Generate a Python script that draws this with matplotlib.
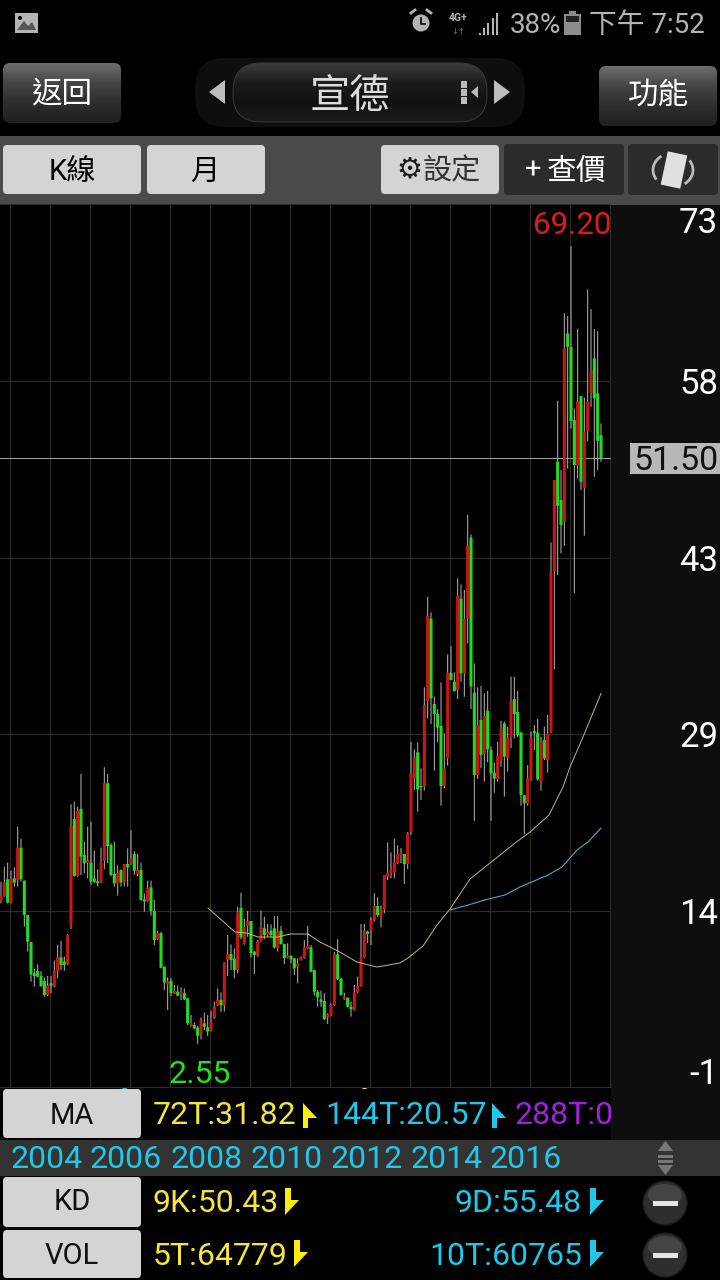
import numpy as np
import matplotlib
matplotlib.use("Agg")
import matplotlib.pyplot as plt
from matplotlib.colors import LinearSegmentedColormap
from matplotlib.patches import FancyBboxPatch, Rectangle, Circle, Ellipse, Polygon, Arc
from matplotlib.transforms import blended_transform_factory, ScaledTranslation

plt.rcParams['font.family'] = ['Roboto', 'Noto Sans CJK TC', 'DejaVu Sans']

## monthly candles
opens = [14.51,14.90,16.29,14.37,16.37,16.23,18.94,16.18,13.31,11.05,
 8.44,8.63,8.21,7.80,6.63,7.60,7.32,8.63,9.77,9.41,
 9.27,12.48,21.33,16.57,22.17,18.32,17.68,17.68,16.37,16.12,
 16.01,17.85,24.31,19.16,16.74,15.96,17.07,16.01,17.57,17.57,
 18.41,16.68,17.07,14.62,14.48,15.62,13.64,11.28,11.78,9.00,
 7.52,7.82,6.77,6.91,6.71,6.77,6.35,4.04,4.12,3.90,
 3.37,4.26,3.93,3.65,4.68,5.76,6.21,5.73,9.60,10.05,
 9.66,8.71,13.89,10.89,12.39,12.81,10.25,9.88,11.16,12.20,
 11.69,12.00,12.20,10.52,12.00,10.89,9.75,9.88,9.69,8.99,
 9.55,9.72,10.50,10.61,8.71,6.90,6.26,6.12,4.76,4.95,
 5.79,10.02,8.02,6.27,6.40,5.65,5.37,6.82,7.38,9.77,
 11.94,12.00,12.84,14.06,13.17,13.78,16.51,16.85,16.85,17.65,
 18.24,18.40,17.57,20.27,24.73,26.90,24.09,24.03,31.19,38.07,
 30.94,30.10,29.10,24.09,26.40,33.55,32.80,32.11,39.74,33.50,
 38.09,44.83,31.88,25.00,29.60,26.76,30.38,27.09,25.20,24.67,
 26.26,29.32,26.45,28.12,31.35,30.27,28.57,23.31,22.64,24.59,
 28.68,28.54,24.45,27.93,26.26,28.57,42.04,51.18,47.98,46.17,
 61.90,60.78,54.66,50.90,56.66,49.00,53.77,56.94,59.81,56.89,
 53.41]
closes = [14.93,16.04,14.34,16.37,16.01,18.94,16.29,13.31,11.08,8.35,
 8.21,8.16,7.38,6.63,7.43,7.38,8.63,9.77,9.13,9.13,
 11.64,20.75,16.57,22.00,18.18,17.63,17.85,16.09,16.09,15.98,
 17.68,24.31,19.07,16.65,15.96,16.85,16.04,17.57,17.29,18.04,
 17.01,17.07,14.56,14.45,15.54,13.64,11.22,11.78,8.91,7.66,
 7.74,6.77,6.99,6.57,6.91,6.26,4.26,4.26,3.84,3.20,
 4.54,3.98,3.57,4.40,5.65,6.21,5.79,9.35,10.05,9.55,
 8.71,13.53,11.44,12.28,12.78,10.11,9.97,11.16,12.28,11.64,
 11.92,11.64,10.58,11.92,10.89,9.72,9.91,9.60,8.85,9.22,
 9.83,10.61,10.72,8.57,6.90,6.43,6.04,4.60,5.01,5.79,
 10.02,7.96,6.63,6.49,5.65,5.43,6.85,7.38,9.77,12.00,
 11.72,12.89,14.06,13.31,13.78,16.65,16.85,17.07,17.71,18.40,
 18.49,17.57,20.16,25.14,26.54,23.81,23.98,30.85,38.29,31.41,
 30.10,28.96,24.09,25.56,33.55,32.94,32.02,39.96,33.50,38.04,
 44.14,32.39,25.00,29.18,26.68,29.94,27.15,25.14,24.70,26.62,
 28.90,26.54,28.12,31.22,30.10,28.35,23.34,22.64,24.73,28.12,
 28.49,24.64,27.79,26.40,28.49,41.94,49.65,47.50,45.89,60.65,
 60.78,54.58,50.90,56.27,49.51,53.68,56.19,58.78,56.47,52.93,
 51.50]
highs = [16.09,17.35,17.68,17.01,17.29,20.69,19.69,16.18,13.31,11.05,
 8.80,9.19,8.63,8.10,8.21,8.21,9.50,10.80,11.14,9.83,
 11.72,22.56,22.78,22.36,25.09,19.44,20.69,21.11,18.68,17.13,
 18.94,25.65,25.09,19.30,19.44,17.46,17.13,17.57,18.88,20.41,
 18.63,18.41,17.68,15.12,16.18,16.18,14.56,12.00,11.92,9.00,
 8.10,8.02,7.46,7.41,7.27,7.18,6.35,4.96,4.32,4.04,
 4.76,5.15,4.95,5.32,6.07,7.18,6.85,9.35,11.64,10.86,
 10.52,14.00,15.17,12.97,13.64,12.81,10.30,11.22,13.67,13.17,
 12.56,12.53,13.23,13.23,12.39,10.89,10.94,9.97,9.69,9.69,
 9.83,11.22,12.39,10.80,8.71,7.04,6.99,6.77,5.10,5.93,
 10.22,11.28,8.02,6.82,6.40,6.07,7.46,8.16,12.56,12.56,
 12.00,13.11,15.12,14.79,14.09,16.65,19.38,18.54,19.66,19.15,
 18.90,18.40,20.24,27.79,27.15,27.71,25.56,32.33,39.90,38.60,
 31.55,30.52,32.75,28.49,35.09,35.78,33.58,41.44,40.93,40.46,
 46.73,45.11,34.33,32.33,32.44,31.83,32.02,27.37,26.04,27.79,
 29.54,29.46,29.04,33.22,33.22,32.02,28.57,23.31,25.84,28.62,
 29.18,29.68,28.21,29.04,30.02,44.44,49.65,56.27,50.48,63.57,
 63.35,69.20,55.63,62.26,56.66,56.55,65.57,63.93,62.26,62.09,
 54.38]
lows = [14.28,14.84,14.28,14.28,15.68,15.68,16.09,12.34,10.25,7.74,
 7.32,8.10,7.32,6.49,6.54,6.77,7.27,8.02,8.72,8.66,
 9.13,12.14,16.51,16.51,16.65,16.79,16.37,15.82,15.96,15.68,
 15.96,17.13,17.63,16.57,15.68,14.93,15.68,15.68,15.68,17.49,
 16.65,16.57,14.51,13.59,14.42,13.25,10.80,11.22,8.85,7.04,
 5.37,6.54,6.71,6.54,6.21,6.21,4.12,3.98,3.76,2.55,
 2.92,3.70,3.20,3.59,4.62,5.71,5.23,5.23,8.21,8.71,
 8.02,8.44,11.28,10.83,11.50,9.77,8.38,9.83,11.08,11.28,
 11.50,11.44,10.52,10.25,10.83,9.22,9.69,9.27,8.30,7.60,
 9.49,9.66,10.44,8.52,6.57,5.65,5.65,4.54,4.20,4.87,
 5.73,7.88,6.57,6.21,5.60,4.82,5.32,6.77,7.32,9.69,
 10.97,10.80,12.75,13.17,12.28,13.45,16.23,16.37,16.37,17.57,
 17.65,15.90,17.15,20.00,23.75,21.94,22.92,23.70,29.74,29.27,
 25.37,27.74,22.44,23.89,25.79,32.94,31.97,31.35,32.80,31.55,
 36.01,30.52,21.16,24.67,25.56,24.45,26.06,21.16,23.53,24.45,
 25.70,23.20,25.28,27.23,28.07,28.15,22.44,20.05,22.44,24.53,
 27.09,24.53,23.70,26.26,25.20,28.49,33.86,41.71,43.52,44.16,
 50.62,53.96,40.18,49.79,48.81,44.99,52.90,55.77,49.92,50.48,
 51.18]

ma72_idx = [62.1,70.2,73.8,77.1,83.1,86.7,92.1,95.7,101.1,106.8,112.8,119.7,122.1,126.6,
            130.8,134.7,140.7,146.7,154.2,158.7,164.4,168.6,170.7,174.6,180]
ma72_val = [13.89,11.89,11.80,11.47,11.47,11.72,11.72,11.05,10.30,9.38,8.96,9.30,9.72,10.72,
            12.47,13.81,16.32,17.65,19.32,20.24,21.66,24.00,25.67,28.18,31.82]
ma144_idx = [134.7,140.1,146.1,151.2,155.7,164.1,168.3,172.8,176.1,180]
ma144_val = [13.73,14.14,14.64,14.98,15.65,16.65,17.32,18.74,19.41,20.57]

ytick_vals = [72.71,57.92,43.17,28.43,13.64,-1.06]
ytick_labels = ["73","58","43","29","14","-1"]
year_labels = ["2004","2006","2008","2010","2012","2014","2016"]

fig = plt.figure(figsize=(7.2,12.8), dpi=100, facecolor='black')

## capa de interfaz, en pixeles de pantalla
ui = fig.add_axes([0,0,1,1], zorder=0)
ui.set_xlim(0,720)
ui.set_ylim(1280,0)
ui.axis('off')
ui.set_autoscale_on(False)

def grad_box(x0,y0,x1,y1,colors,r=6,ec='none',z=2):
    cm = LinearSegmentedColormap.from_list('b',colors)
    g = np.linspace(0,1,64).reshape(-1,1)
    im = ui.imshow(g, extent=[x0,x1,y1,y0], aspect='auto', cmap=cm, zorder=z, origin='upper')
    p = FancyBboxPatch((x0+r,y0+r),x1-x0-2*r,y1-y0-2*r, boxstyle="round,pad=%g,rounding_size=%g"%(r,r),
                       fc='none', ec=ec, lw=0.7, zorder=z+0.1)
    ui.add_patch(p)
    im.set_clip_path(p)

def flat_box(x0,y0,x1,y1,color,r=4):
    ui.add_patch(FancyBboxPatch((x0+r,y0+r),x1-x0-2*r,y1-y0-2*r, boxstyle="round,pad=%g,rounding_size=%g"%(r,r),
                                fc=color, ec='none', zorder=2))

def label(x,y,s,size,color='black',ha='center',**kw):
    ui.text(x,y+2.5,s,fontsize=size,color=color,ha=ha,va='center',zorder=5,**kw)

def flag_up(x,y,color):
    ui.add_patch(Polygon([(x,y),(x+14,y+15),(x+5,y+15),(x+5,y+25),(x,y+25)],fc=color,ec='none',zorder=5))

def flag_down(x,y,color):
    ui.add_patch(Polygon([(x,y),(x+6,y),(x+6,y+12),(x+14,y+12),(x,y+27)],fc=color,ec='none',zorder=5))

## barra de estado
stat = '#b4b4b4'
ui.add_patch(Rectangle((15,13),23,20,fc=stat,ec='none',zorder=3))
ui.add_patch(Polygon([(17,30),(24,21),(28,26),(32,22),(36,30)],fc='#555555',ec='none',zorder=4))
ui.add_patch(Circle((20,18),2,fc='black',ec='none',zorder=4))
ui.add_patch(Circle((421,23),8.5,fc=stat,ec='none',zorder=3))
ui.plot([421,421,425],[18,24,24],color='black',lw=1.2,zorder=4)
ui.plot([411,415],[13,10],color=stat,lw=2,zorder=3)
ui.plot([431,427],[13,10],color=stat,lw=2,zorder=3)
label(458,15.5,"4G+",7.5,stat,fontweight='bold')
label(458,28.5,"↓↑",6,'#777777',family=['DejaVu Sans'])
for bx,top in zip([479,483,487,492,496],[33,28,23,18,13]):
    ui.add_patch(Rectangle((bx,top),2.4,35-top,fc=stat,ec='none',zorder=3))
label(535,23,"38%",20,stat)
ui.add_patch(Rectangle((564,14),17,21,fc='#8c8c8c',ec='none',zorder=3))
ui.add_patch(Rectangle((569,11),7,3,fc='#8c8c8c',ec='none',zorder=3))
ui.add_patch(Rectangle((566,16),13,6,fc='#222222',ec='none',zorder=4))
label(647,23,"下午 7:52",20,stat)

## botones de arriba
grad_box(3,63,121,123,['#6e6e6e','#444444','#2e2e2e','#202020'],r=7)
label(62,91,"返回",22,'white')
grad_box(599,66,717,126,['#6e6e6e','#444444','#2e2e2e','#202020'],r=7)
label(658,93,"功能",22,'white')
flat_box(195,58,525,127,'#0e0e0e',r=30)
grad_box(233,63,487,122,['#3c3c3c','#1c1c1c','#111111','#1c1c1c'],r=28,ec='#3a3a3a')
label(350,94,"宣德",29,'#dcdcdc')
ui.add_patch(Polygon([(225,80),(225,104),(209,92)],fc='#bdbdbd',ec='none',zorder=4))
ui.add_patch(Polygon([(494,80),(494,104),(510,92)],fc='#bdbdbd',ec='none',zorder=4))
for dy in [84,92,100]:
    ui.add_patch(Rectangle((461,dy-3.5),6,7,fc='#bbbbbb',ec='none',zorder=4))
ui.add_patch(Polygon([(478,86),(478,98),(471,92)],fc='#bbbbbb',ec='none',zorder=4))

## barra de herramientas
ui.add_patch(Rectangle((0,136),720,69,fc='#4a4a4a',ec='none',zorder=1))
light = '#d4d4d4'
flat_box(3,145,141,194,light)
flat_box(147,145,265,194,light)
flat_box(381,145,499,194,light)
flat_box(504,144,624,195,'#2b2b2b')
flat_box(628,144,718,195,'#2b2b2b')
label(72,169,"K線",21)
label(205,169,"月",21)
label(409,167,"⚙",21,'#1c1c1c',family=['DejaVu Sans'],fontweight='bold')
label(452,169,"設定",21,'#333333')
label(533,168,"+",21,'white')
label(577,169,"查價",21.5,'white')
rot = Rectangle((-10,-17),20,34,fc='#e0e0e0',ec='none',zorder=4)
rot.set_transform(matplotlib.transforms.Affine2D().rotate_deg(12).translate(674,170)+ui.transData)
ui.add_patch(rot)
ui.add_patch(Arc((673,170),40,34,theta1=150,theta2=230,color='#bbbbbb',lw=2,zorder=4))
ui.add_patch(Arc((673,170),40,34,theta1=330,theta2=50,color='#bbbbbb',lw=2,zorder=4))

## panel de precios y franja de anos
ui.add_patch(Rectangle((611,205),109,935,fc='#0e0e0e',ec='none',zorder=1))
ui.add_patch(Rectangle((630,443),90,31,fc='#b8b8b8',ec='none',zorder=3))
ui.add_patch(Rectangle((0,1140),720,36,fc='#333333',ec='none',zorder=1))
ui.add_patch(Polygon([(658,1151),(673,1151),(665.5,1141)],fc='#777777',ec='none',zorder=3))
ui.add_patch(Rectangle((658,1155),15,3,fc='#777777',ec='none',zorder=3))
ui.add_patch(Rectangle((658,1160),15,3,fc='#777777',ec='none',zorder=3))
ui.add_patch(Polygon([(658,1165),(673,1165),(665.5,1175)],fc='#777777',ec='none',zorder=3))
ui.add_patch(Polygon([(122,1089),(127,1089),(124.5,1086)],fc='#1fc8e8',ec='none',zorder=3))
ui.add_patch(Polygon([(362,1089),(367,1089),(364.5,1086)],fc='#f6e63c',ec='none',zorder=3))

## botones de abajo
flat_box(3,1089,141,1138,light)
flat_box(3,1177,141,1227,light)
flat_box(3,1230,141,1278,light)
label(72,1113,"MA",21,'#111111')
label(72,1200,"KD",21,'#111111')
label(72,1254,"VOL",21,'#111111')
yel = '#f6e63c'
cya = '#1fc8e8'
label(153,1113,"72T:31.82",23,yel,ha='left')
flag_up(303,1103,'#ffee00')
label(325,1113,"144T:20.57",23,cya,ha='left')
flag_up(492,1103,cya)
t = ui.text(515,1115.5,"288T:0",fontsize=23,color='#a51fe0',ha='left',va='center',zorder=5)
t.set_clip_path(Rectangle((0,1085),611,60,transform=ui.transData))
label(153,1201,"9K:50.43",23,yel,ha='left')
flag_down(285,1188,'#ffee00')
label(582,1201,"9D:55.48",23,cya,ha='right')
flag_down(590,1188,cya)
label(153,1254,"5T:64779",23,yel,ha='left')
flag_down(294,1240,'#ffee00')
label(582,1254,"10T:60765",23,cya,ha='right')
flag_down(590,1240,cya)
for cy in [1203,1255]:
    ui.add_patch(Ellipse((665,cy),44,44,fc='#2e2e2e',ec='#1a1a1a',zorder=3))
    ui.add_patch(Ellipse((665,cy-8),34,22,fc='#4a4a4a',ec='none',zorder=3,alpha=0.8))
    ui.add_patch(Rectangle((653,cy-2.5),25,5,fc='#e4e4e4',ec='none',zorder=4))

## grafico de velas
ax = fig.add_axes([0,(1280-1087)/1280,611/720,(1087-204)/1280], zorder=1, facecolor='black')
ax.set_xlim(-0.3,183)
ax.set_ylim(ytick_vals[-1],ytick_vals[0])
idx = np.arange(len(opens))
year_ticks = 2.7+12*np.arange(16)
ax.set_xticks(year_ticks)
ax.set_yticks(ytick_vals)
ax.set_yticklabels(ytick_labels)
ax.yaxis.tick_right()
ax.tick_params(axis='y',length=0,pad=77,labelsize=25,labelcolor='white')
ax.tick_params(axis='x',length=0,labelbottom=False)
for lab in ax.get_yticklabels():
    lab.set_ha('right')
top_lab = ax.get_yticklabels()[0]
bot_lab = ax.get_yticklabels()[-1]
top_lab.set_va('top')
top_lab.set_transform(top_lab.get_transform()+ScaledTranslation(0,-3/100,fig.dpi_scale_trans))
bot_lab.set_va('bottom')
bot_lab.set_transform(bot_lab.get_transform()+ScaledTranslation(0,-4/100,fig.dpi_scale_trans))
ax.grid(True,color='#2a2a2a',lw=0.9)
ax.set_axisbelow(True)
for s in ax.spines.values():
    s.set_visible(False)
ax.spines['bottom'].set_visible(True)
ax.spines['bottom'].set_color('#2c2c2c')

o = np.array(opens)
c = np.array(closes)
ups = c>=o
colors = np.where(ups,'#cc1616','#22dc22')
ax.vlines(idx,lows,highs,color='#b4b4b4',lw=0.72,zorder=2,snap=False)
bars = ax.bar(idx,np.abs(c-o),bottom=np.minimum(o,c),width=0.92,color=colors,lw=0,zorder=3)
for b in bars:
    b.set_snap(False)
ax.plot(ma72_idx,ma72_val,color='#bdbb78',lw=0.7,zorder=4)
ax.plot(ma144_idx,ma144_val,color='#52a8bc',lw=0.8,zorder=4)
ax.axhline(closes[-1],color='#9a9a9a',lw=0.8,zorder=1)

## etiquetas
lo = int(np.argmin(lows))
ax.text(183,70.9,"%.2f"%max(highs),color='#e01a1a',fontsize=22.5,ha='right',va='center',zorder=6,clip_on=False)
ax.text(lo+0.6,-0.02,"%.2f"%min(lows),color='#22e022',fontsize=23,ha='center',va='center',zorder=6)
tr = blended_transform_factory(ui.transData,ax.transData)
ax.text(719,closes[-1]-0.3,"%.2f"%closes[-1],color='#111111',fontsize=24.5,ha='right',va='center',transform=tr,
        clip_on=False,zorder=6)
tr2 = blended_transform_factory(ax.transData,ui.transData)
for k,y in enumerate(year_labels):
    ax.text(year_ticks[2*k],1160,y,color=cya,fontsize=23,ha='left',va='center',transform=tr2,clip_on=False,zorder=6)

fig.savefig("out.png",dpi=100,facecolor='black')
